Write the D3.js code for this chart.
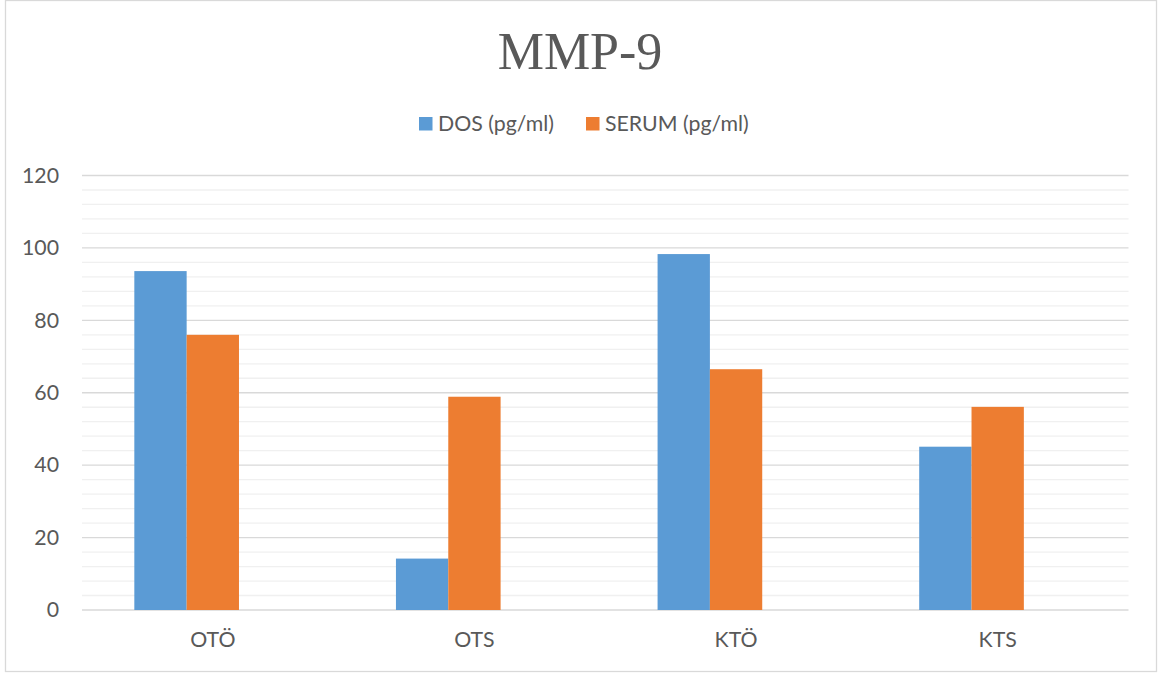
<!DOCTYPE html>
<html>
<head>
<meta charset="utf-8">
<script src="https://cdn.jsdelivr.net/npm/d3@7"></script>
<style>
  html, body { margin: 0; padding: 0; background: #fff; }
  svg { display: block; }
</style>
</head>
<body>
<svg id="chart" width="1162" height="673"></svg>
<script>
// MMP-9 levels per group
const categories = ["OTÖ", "OTS", "KTÖ", "KTS"];
const seriesNames = ["DOS (pg/ml)", "SERUM (pg/ml)"];
const dosValues = [93.6, 14.2, 98.3, 45.1];
const serumValues = [76.0, 58.9, 66.5, 56.1];
const yTicks = [0, 20, 40, 60, 80, 100, 120];
const seriesColors = ["#5B9BD5", "#ED7D31"];

const W = 1162, H = 673;
const svg = d3.select("#chart");
const textColor = "#595959";
const font = "Lato, 'Open Sans', sans-serif";
const fontSize = "21.3px";

// chart frame
svg.append("rect")
  .attr("x", 5.5).attr("y", 0.5)
  .attr("width", 1151).attr("height", 671)
  .attr("fill", "#fff").attr("stroke", "#d9d9d9").attr("stroke-width", 1.3);

const plot = { left: 82, right: 1128.5, top: 175.5, bottom: 610 };

const x0 = d3.scaleBand().domain(categories)
  .range([plot.left, plot.right]).paddingInner(0).paddingOuter(0);
// three bar slots per group; the third slot is left empty
const x1 = d3.scaleBand().domain([0, 1, 2])
  .range([0, x0.bandwidth()]).paddingInner(0).paddingOuter(1);
const y = d3.scaleLinear().domain([0, 120]).range([plot.bottom, plot.top]);

// minor gridlines every 4 units
const minor = d3.range(0, 121, 4).filter(v => v % 20 !== 0);
svg.append("g").selectAll("line").data(minor).join("line")
  .attr("x1", plot.left).attr("x2", plot.right)
  .attr("y1", d => y(d)).attr("y2", d => y(d))
  .attr("stroke", "#f0f0f0").attr("stroke-width", 1.3);

// major gridlines
svg.append("g").selectAll("line").data(yTicks).join("line")
  .attr("x1", plot.left).attr("x2", plot.right)
  .attr("y1", d => y(d)).attr("y2", d => y(d))
  .attr("stroke", "#d9d9d9").attr("stroke-width", 1.3);

// y axis labels
const yAxis = d3.axisLeft(y).tickValues(yTicks).tickSize(0).tickPadding(23);
const gy = svg.append("g").attr("transform", `translate(${plot.left},0)`).call(yAxis);
gy.select(".domain").remove();
gy.selectAll("text").attr("fill", textColor)
  .style("font-family", font).style("font-size", fontSize);

// bars
const rows = categories.map((c, i) => ({ cat: c, vals: [dosValues[i], serumValues[i]] }));
const groups = svg.append("g").selectAll("g").data(rows).join("g")
  .attr("transform", d => `translate(${x0(d.cat)},0)`);
groups.selectAll("rect").data(d => d.vals.map((v, k) => ({ k, v }))).join("rect")
  .attr("x", d => x1(d.k))
  .attr("width", x1.bandwidth())
  .attr("y", d => y(d.v))
  .attr("height", d => y(0) - y(d.v))
  .attr("fill", d => seriesColors[d.k]);

// x axis labels
const xAxis = d3.axisBottom(x0).tickSize(0).tickPadding(22);
const gx = svg.append("g").attr("transform", `translate(0,${plot.bottom})`).call(xAxis);
gx.select(".domain").remove();
gx.selectAll("text").attr("fill", textColor)
  .style("font-family", font).style("font-size", fontSize);

// title
svg.append("text")
  .attr("x", 580).attr("y", 68.5)
  .attr("text-anchor", "middle")
  .attr("fill", textColor)
  .style("font-family", "'Liberation Serif', 'Times New Roman', serif")
  .style("font-size", "52px")
  .text("MMP-9");

// legend
const legendX = [419, 586];
const legend = svg.append("g").selectAll("g").data(seriesNames).join("g")
  .attr("transform", (d, i) => `translate(${legendX[i]},117)`);
legend.append("rect")
  .attr("width", 13.5).attr("height", 13.5)
  .attr("fill", (d, i) => seriesColors[i]);
legend.append("text")
  .attr("x", 19).attr("y", 14)
  .attr("fill", textColor)
  .style("font-family", font).style("font-size", fontSize)
  .text(d => d);
</script>
</body>
</html>
